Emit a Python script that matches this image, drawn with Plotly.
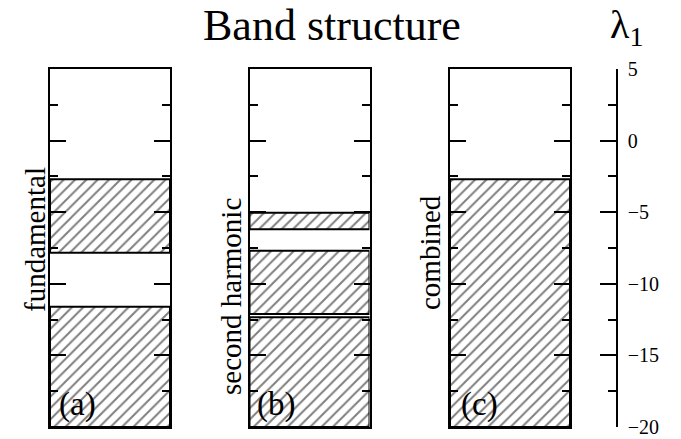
import plotly.graph_objects as go

# ---- data (energy bands, lambda_1 values) ----
panel_names = ["fundamental", "second harmonic", "combined"]
panel_tags = ["(a)", "(b)", "(c)"]
fund_bottom = [-20.0, -7.83]
fund_top = [-11.6, -2.7]
harm_bottom = [-20.0, -12.11, -6.19]
harm_top = [-12.34, -7.69, -5.03]
comb_bottom = [-20.0]
comb_top = [-2.7]
y_range = [-20, 5]
tick_vals = [5, 0, -5, -10, -15, -20]

bands = [(fund_bottom, fund_top), (harm_bottom, harm_top), (comb_bottom, comb_top)]

W, H = 681, 439
panel_px = [(50, 170), (249.5, 369.5), (450, 570)]
y_top_px, y_bot_px = 69, 427
ydom = [1 - y_bot_px / H, 1 - y_top_px / H]

FONT = "Liberation Serif, Times New Roman, serif"

fig = go.Figure()
layout = dict(
    width=W, height=H,
    margin=dict(l=0, r=0, t=0, b=0, autoexpand=False),
    paper_bgcolor="white", plot_bgcolor="white",
    showlegend=False, barmode="overlay",
    font=dict(family=FONT, color="black"),
)

for i, (bot, top) in enumerate(bands):
    k = "" if i == 0 else str(i + 1)
    xa, ya = "x" + k, "y" + k
    fig.add_trace(go.Bar(
        x=[0.5] * len(bot),
        y=[t - b for b, t in zip(bot, top)],
        base=bot, width=1,
        xaxis=xa, yaxis=ya,
        marker=dict(color="white",
                    line=dict(color="black", width=2),
                    pattern=dict(shape="/", size=8, solidity=0.25,
                                 fgcolor="black", bgcolor="white")),
        hoverinfo="skip",
    ))
    x0, x1 = panel_px[i]
    layout["xaxis" + k] = dict(domain=[x0 / W, x1 / W], range=[0, 1],
                               anchor=ya, showticklabels=False, ticks="",
                               showgrid=False, zeroline=False, automargin=False,
                               showline=True, linewidth=2, linecolor="black",
                               mirror=True)
    layout["yaxis" + k] = dict(domain=ydom, range=y_range, anchor=xa,
                               showticklabels=False, showgrid=False, zeroline=False,
                               automargin=False,
                               showline=True, linewidth=2, linecolor="black",
                               mirror="ticks", ticks="inside", ticklen=16,
                               tickwidth=1.5, tickcolor="black",
                               tickvals=tick_vals,
                               minor=dict(ticks="inside", ticklen=8, tickwidth=1.5,
                                          tickcolor="black", dtick=2.5, tick0=0,
                                          showgrid=False))

# right-hand scale axis
layout["yaxis4"] = dict(overlaying="y", anchor="free", position=617 / W, side="right",
                        range=y_range, showgrid=False, zeroline=False, automargin=False,
                        showline=True, linewidth=1.5, linecolor="black",
                        ticks="inside", ticklen=16, tickwidth=1.5, tickcolor="black",
                        tickvals=tick_vals, ticktext=[str(v).replace("-", "\u2212") for v in tick_vals],
                        tickfont=dict(family=FONT, size=20, color="black"),
                        ticklabelstandoff=6,
                        minor=dict(ticks="inside", ticklen=8, tickwidth=1.5,
                                   tickcolor="black", dtick=2.5, tick0=0, showgrid=False))
fig.add_trace(go.Scatter(x=[0.5], y=[0], yaxis="y4", xaxis="x", mode="markers",
                         marker=dict(opacity=0), showlegend=False, hoverinfo="skip"))

fig.update_layout(**layout)

def ann(text, x, y, size, angle=0):
    fig.add_annotation(text=text, x=x / W, y=1 - y / H, xref="paper", yref="paper",
                       xanchor="center", yanchor="middle", showarrow=False,
                       textangle=angle, font=dict(family=FONT, size=size, color="black"))

ann("Band structure", 332, 25, 44)
ann("\u03bb<sub>1</sub>", 626, 27, 40)
label_pos = [(35, 240), (231, 297), (430, 253)]
for name, (lx, ly) in zip(panel_names, label_pos):
    ann(name, lx, ly, 29, -90)
tag_pos = [(77, 404), (276, 404), (479, 404)]
for tag, (tx, ty) in zip(panel_tags, tag_pos):
    ann(tag, tx, ty, 33)

fig.write_html("out.html")
